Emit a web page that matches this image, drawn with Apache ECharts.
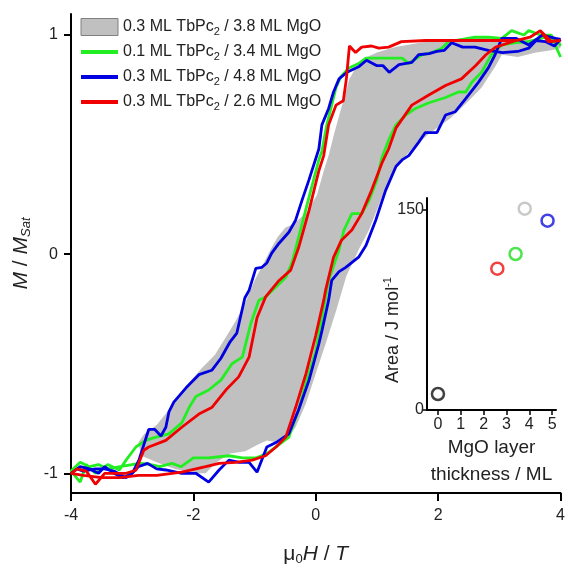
<!DOCTYPE html>
<html>
<head>
<meta charset="utf-8">
<script src="https://cdn.jsdelivr.net/npm/echarts@6/dist/echarts.min.js"></script>
<style>
html,body{margin:0;padding:0;background:#fff;}
#chart{width:568px;height:574px;}
</style>
</head>
<body>
<div id="chart"></div>
<script>
// ---------- data ----------
const seriesNames = [
  '0.3 ML TbPc₂ / 3.8 ML MgO',
  '0.1 ML TbPc₂ / 3.4 ML MgO',
  '0.3 ML TbPc₂ / 4.8 ML MgO',
  '0.3 ML TbPc₂ / 2.6 ML MgO'
];
const xTicks = [-4, -2, 0, 2, 4];
const yTicks = [-1, 0, 1];

// gray loop (0.3 ML / 3.8 ML MgO): [mu0H (T), M/Msat], closed outline
const grayLoop = [
  [4.0,0.96],[3.8,0.97],[3.5,0.98],[3.2,0.985],[2.9,0.99],[2.5,0.985],[2.1,0.98],[1.7,0.965],
  [1.3,0.945],[1.0,0.92],[0.8,0.895],[0.65,0.85],[0.55,0.80],[0.47,0.72],[0.38,0.63],[0.3,0.55],
  [0.22,0.46],[0.12,0.37],[0.02,0.27],[-0.15,0.19],[-0.35,0.14],[-0.5,0.12],[-0.62,0.08],
  [-0.72,0.03],[-0.85,-0.04],[-1.0,-0.12],[-1.15,-0.22],[-1.3,-0.3],[-1.45,-0.37],[-1.65,-0.46],
  [-1.86,-0.52],[-2.05,-0.58],[-2.2,-0.63],[-2.4,-0.71],[-2.6,-0.78],[-2.8,-0.82],[-2.9,-0.86],
  [-2.85,-0.92],[-2.6,-0.95],[-2.3,-0.98],[-2.0,-1.0],[-1.8,-1.0],[-1.62,-0.95],[-1.4,-0.91],
  [-1.15,-0.9],[-0.95,-0.87],[-0.8,-0.85],[-0.62,-0.86],[-0.5,-0.85],[-0.33,-0.79],[-0.16,-0.68],
  [0.0,-0.545],[0.16,-0.41],[0.33,-0.26],[0.5,-0.1],[0.7,0.02],[0.87,0.11],[1.08,0.26],
  [1.36,0.415],[1.57,0.48],[1.85,0.55],[2.2,0.62],[2.5,0.7],[2.71,0.76],[2.94,0.86],[3.04,0.91],
  [3.3,0.9],[3.6,0.92],[3.85,0.93],[4.0,0.94]
];

// green loop (0.1 ML / 3.4 ML MgO): down-sweep then up-sweep
const greenLoop = [
  [4.0,0.90],[3.92,0.95],[3.85,1.0],[3.67,1.0],[3.48,1.02],[3.4,1.0],[3.2,1.02],[3.04,0.985],
  [2.82,0.99],[2.6,0.99],[2.28,0.975],[2.17,0.97],[2.06,0.94],[1.9,0.92],[1.73,0.91],[1.52,0.87],
  [1.41,0.895],[1.19,0.895],[0.98,0.895],[0.82,0.895],[0.7,0.87],[0.54,0.85],[0.41,0.81],
  [0.33,0.76],[0.26,0.68],[0.18,0.59],[0.10,0.47],[0.05,0.43],[-0.11,0.26],[-0.28,0.078],
  [-0.39,-0.04],[-0.49,-0.105],[-0.65,-0.15],[-0.82,-0.195],[-0.93,-0.21],[-1.06,-0.315],
  [-1.2,-0.47],[-1.37,-0.5],[-1.55,-0.575],[-1.75,-0.62],[-1.96,-0.65],[-2.07,-0.70],
  [-2.19,-0.77],[-2.4,-0.82],[-2.61,-0.835],[-2.78,-0.85],[-2.94,-0.88],[-3.1,-0.94],
  [-3.21,-0.985],[-3.4,-0.96],[-3.6,-1.0],[-3.75,-0.96],[-3.85,-1.04],[-4.0,-0.99],
  [-3.85,-0.95],[-3.7,-0.97],[-3.55,-0.96],[-3.4,-0.98],[-3.2,-0.97],[-3.0,-0.96],[-2.85,-0.955],
  [-2.7,-0.96],[-2.55,-0.97],[-2.35,-0.955],[-2.2,-0.97],[-2.0,-0.93],[-1.75,-0.93],[-1.42,-0.92],
  [-1.2,-0.93],[-0.98,-0.93],[-0.8,-0.91],[-0.65,-0.88],[-0.44,-0.835],[-0.28,-0.71],
  [-0.16,-0.59],[0.0,-0.44],[0.1,-0.29],[0.21,-0.12],[0.38,0.02],[0.46,0.11],[0.59,0.185],
  [0.75,0.185],[0.87,0.245],[1.0,0.34],[1.08,0.44],[1.19,0.52],[1.31,0.59],[1.47,0.635],
  [1.63,0.665],[1.84,0.69],[2.12,0.715],[2.33,0.74],[2.45,0.74],[2.55,0.785],[2.71,0.83],
  [2.87,0.91],[3.04,0.955],[3.27,0.965],[3.48,0.97],[3.75,0.99],[3.95,0.98],[4.0,0.95]
];

// blue loop (0.3 ML / 4.8 ML MgO)
const blueLoop = [
  [4.0,0.98],[3.9,0.95],[3.75,0.97],[3.6,0.975],[3.48,0.94],[3.3,0.925],[3.05,0.92],[2.82,0.93],
  [2.6,0.945],[2.4,0.945],[2.22,0.965],[2.1,0.93],[1.98,0.925],[1.85,0.915],[1.68,0.91],
  [1.57,0.875],[1.36,0.865],[1.2,0.83],[1.1,0.86],[1.0,0.86],[0.83,0.885],[0.70,0.855],
  [0.51,0.83],[0.38,0.80],[0.29,0.74],[0.21,0.665],[0.1,0.59],[0.05,0.48],[-0.11,0.34],
  [-0.22,0.25],[-0.33,0.155],[-0.44,0.10],[-0.6,0.05],[-0.72,0.005],[-0.8,-0.04],[-0.88,-0.06],
  [-0.98,-0.065],[-1.09,-0.165],[-1.16,-0.2],[-1.29,-0.36],[-1.4,-0.40],[-1.55,-0.475],
  [-1.7,-0.53],[-1.91,-0.55],[-2.12,-0.61],[-2.32,-0.675],[-2.4,-0.72],[-2.45,-0.79],
  [-2.53,-0.83],[-2.63,-0.80],[-2.73,-0.80],[-2.89,-0.94],[-3.0,-1.0],[-3.1,-1.02],[-3.3,-0.99],
  [-3.45,-0.98],[-3.6,-0.98],[-3.8,-0.99],[-3.9,-0.98],[-4.0,-1.0],
  [-3.85,-0.97],[-3.7,-0.98],[-3.55,-1.0],[-3.45,-0.97],[-3.3,-1.0],[-3.15,-1.02],[-3.0,-1.0],
  [-2.9,-0.97],[-2.75,-0.955],[-2.6,-0.98],[-2.45,-0.985],[-2.19,-1.0],[-1.96,-1.0],
  [-1.75,-1.04],[-1.58,-0.985],[-1.42,-0.94],[-1.25,-0.95],[-1.09,-0.95],[-0.96,-0.995],
  [-0.80,-0.88],[-0.65,-0.86],[-0.44,-0.82],[-0.28,-0.71],[-0.11,-0.575],[0.05,-0.41],
  [0.10,-0.35],[0.21,-0.21],[0.26,-0.12],[0.38,-0.08],[0.49,-0.06],[0.70,-0.014],[0.82,0.04],
  [0.98,0.155],[1.14,0.29],[1.31,0.40],[1.41,0.43],[1.52,0.45],[1.68,0.51],[1.79,0.555],
  [1.98,0.555],[2.12,0.635],[2.28,0.65],[2.45,0.71],[2.66,0.785],[2.82,0.85],[2.93,0.91],
  [3.04,0.985],[3.27,0.985],[3.48,0.955],[3.7,1.0],[3.92,0.985],[4.0,0.98]
];

// red loop (0.3 ML / 2.6 ML MgO)
const redLoop = [
  [4.0,0.975],[3.85,0.97],[3.67,1.02],[3.5,0.99],[3.27,0.975],[3.0,0.975],[2.6,0.975],
  [2.2,0.975],[1.8,0.975],[1.4,0.97],[1.19,0.945],[1.03,0.94],[0.91,0.95],[0.75,0.945],
  [0.65,0.92],[0.55,0.95],[0.5,0.8],[0.45,0.70],[0.33,0.68],[0.21,0.59],[0.13,0.45],
  [0.05,0.38],[-0.11,0.2],[-0.28,0.03],[-0.41,-0.073],[-0.6,-0.12],[-0.82,-0.195],
  [-0.96,-0.29],[-1.09,-0.47],[-1.26,-0.56],[-1.47,-0.62],[-1.70,-0.70],[-1.91,-0.73],
  [-2.19,-0.79],[-2.45,-0.85],[-2.73,-0.88],[-2.81,-0.895],[-2.94,-0.986],[-3.1,-1.0],
  [-3.3,-1.0],[-3.45,-1.0],[-3.6,-1.05],[-3.75,-0.99],[-3.9,-0.98],[-4.0,-1.0],
  [-3.8,-1.01],[-3.5,-1.02],[-3.2,-1.02],[-2.9,-1.01],[-2.6,-1.01],[-2.19,-0.995],[-1.8,-0.97],
  [-1.58,-0.955],[-1.31,-0.95],[-1.04,-0.94],[-0.82,-0.92],[-0.65,-0.88],[-0.49,-0.835],
  [-0.33,-0.70],[-0.16,-0.545],[0.0,-0.37],[0.13,-0.21],[0.16,-0.165],[0.29,-0.014],
  [0.42,0.064],[0.59,0.11],[0.75,0.185],[0.91,0.29],[1.08,0.415],[1.19,0.48],[1.31,0.575],
  [1.57,0.68],[1.84,0.725],[2.12,0.77],[2.38,0.80],[2.61,0.86],[2.78,0.91],[2.94,0.945],
  [3.27,0.975],[3.5,0.99],[3.67,1.02],[3.8,0.97],[4.0,0.975]
];

// inset: MgO thickness (ML) vs hysteresis area (J/mol)
const insetThickness = [0, 2.6, 3.4, 3.8, 4.8];
const insetArea = [12, 106, 117, 151, 142];
const insetXTicks = [0, 1, 2, 3, 4, 5];
const insetYTicks = [0, 150];

// ---------- styles ----------
const insetColors = ['#111111', '#ee1111', '#22dd22', '#bbbbbb', '#1111dd'];
const lineColors = ['#22ee22', '#0000e0', '#f00000'];
const FONT = 'Liberation Sans, Arial, sans-serif';
const TXT = '#222';

const chart = echarts.init(document.getElementById('chart'), null, {renderer: 'canvas'});

function legendFmt(n) {
  const parts = n.split('₂');
  return '{t|' + parts[0] + '}{s|2}{t|' + parts[1] + '}';
}

const axisLineStyle = {color: '#000', width: 2};

const option = {
  animation: false,
  backgroundColor: '#fff',
  textStyle: {fontFamily: FONT},
  grid: [
    {left: 71, right: 6, top: 14, bottom: 81, containLabel: false},
    {left: 427, right: 12, top: 198, bottom: 164, containLabel: false}
  ],
  legend: {
    orient: 'vertical',
    left: 79,
    top: 17,
    padding: 0,
    itemWidth: 37,
    itemHeight: 17,
    itemGap: 5,
    selectedMode: false,
    formatter: legendFmt,
    textStyle: {
      color: TXT,
      fontFamily: FONT,
      rich: {
        t: {fontSize: 16, lineHeight: 20, color: TXT, fontFamily: FONT},
        s: {fontSize: 11, lineHeight: 11, padding: [9, 0, 0, 0], color: TXT, fontFamily: FONT}
      }
    },
    data: [
      {name: seriesNames[0], icon: 'rect', itemStyle: {color: '#c0c0c0', borderColor: '#808080', borderWidth: 1}},
      {name: seriesNames[1], itemStyle: {opacity: 0}, lineStyle: {width: 4, color: lineColors[0]}},
      {name: seriesNames[2], itemStyle: {opacity: 0}, lineStyle: {width: 4, color: lineColors[1]}},
      {name: seriesNames[3], itemStyle: {opacity: 0}, lineStyle: {width: 4, color: lineColors[2]}}
    ]
  },
  xAxis: [
    {
      gridIndex: 0, type: 'value', min: -4, max: 4, interval: 2,
      axisLine: {show: true, onZero: false, lineStyle: axisLineStyle},
      axisTick: {show: true, length: 8, lineStyle: axisLineStyle, customValues: xTicks},
      axisLabel: {fontSize: 16, color: TXT, margin: 15, fontFamily: FONT, customValues: xTicks},
      splitLine: {show: false},
      name: '{n|μ}{s|0}{i|H}{n| / }{i|T}',
      nameLocation: 'middle',
      nameGap: 49,
      nameTextStyle: {
        rich: {
          n: {fontSize: 21, color: TXT, fontFamily: FONT, lineHeight: 24},
          i: {fontSize: 21, color: TXT, fontFamily: FONT, fontStyle: 'italic', lineHeight: 24},
          s: {fontSize: 13, color: TXT, fontFamily: FONT, lineHeight: 13, padding: [11, 0, 0, 0]}
        }
      }
    },
    {
      gridIndex: 1, type: 'value', min: -0.48, max: 5.17,
      axisLine: {show: true, onZero: false, lineStyle: axisLineStyle},
      axisTick: {show: true, length: 5, lineStyle: {color: '#000', width: 1.5}, customValues: insetXTicks},
      axisLabel: {fontSize: 16, color: TXT, margin: 7, fontFamily: FONT, customValues: insetXTicks},
      splitLine: {show: false},
      name: 'MgO layer\nthickness / ML',
      nameLocation: 'middle',
      nameGap: 21,
      nameTextStyle: {fontSize: 19, color: TXT, fontFamily: FONT, lineHeight: 27}
    }
  ],
  yAxis: [
    {
      gridIndex: 0, type: 'value', min: -1.09, max: 1.096,
      axisLine: {show: true, onZero: false, lineStyle: axisLineStyle},
      axisTick: {show: true, length: 7, lineStyle: axisLineStyle, customValues: yTicks},
      axisLabel: {fontSize: 16, color: TXT, margin: 13, fontFamily: FONT, customValues: yTicks},
      splitLine: {show: false},
      name: '{i|M}{n| / }{i|M}{s|Sat}',
      nameLocation: 'middle',
      nameGap: 38,
      nameTextStyle: {
        rich: {
          n: {fontSize: 21, color: TXT, fontFamily: FONT, lineHeight: 24},
          i: {fontSize: 21, color: TXT, fontFamily: FONT, fontStyle: 'italic', lineHeight: 24},
          s: {fontSize: 13, color: TXT, fontFamily: FONT, fontStyle: 'italic', lineHeight: 13, padding: [11, 0, 0, 0]}
        }
      }
    },
    {
      gridIndex: 1, type: 'value', min: 0, max: 159,
      axisLine: {show: true, onZero: false, lineStyle: axisLineStyle},
      axisTick: {show: true, length: 5, lineStyle: {color: '#000', width: 1.5}, customValues: insetYTicks},
      axisLabel: {fontSize: 16, color: TXT, margin: 3, fontFamily: FONT, customValues: insetYTicks},
      splitLine: {show: false},
      name: '{a|Area / J mol}{p|-1}',
      nameLocation: 'middle',
      nameGap: 23,
      nameMoveOverlap: false,
      nameTextStyle: {
        padding: [0, 52, 0, 0],
        rich: {
          a: {fontSize: 18, color: TXT, fontFamily: FONT, lineHeight: 22},
          p: {fontSize: 11, color: TXT, fontFamily: FONT, lineHeight: 11, padding: [0, 0, 11, 0]}
        }
      }
    }
  ],
  series: [
    {
      name: seriesNames[0],
      type: 'custom',
      xAxisIndex: 0, yAxisIndex: 0,
      itemStyle: {color: '#c0c0c0'},
      data: grayLoop,
      encode: {x: 0, y: 1},
      z: 1,
      renderItem: function (params, api) {
        if (params.dataIndex !== 0) return null;
        const pts = grayLoop.map(function (p) { return api.coord(p); });
        return {type: 'polygon', shape: {points: pts}, style: {fill: '#c0c0c0', stroke: null}};
      }
    },
    {
      name: seriesNames[1], type: 'line', xAxisIndex: 0, yAxisIndex: 0,
      data: greenLoop, symbol: 'none', z: 3,
      itemStyle: {color: lineColors[0]},
      lineStyle: {color: lineColors[0], width: 2.8}
    },
    {
      name: seriesNames[2], type: 'line', xAxisIndex: 0, yAxisIndex: 0,
      data: blueLoop, symbol: 'none', z: 4,
      itemStyle: {color: lineColors[1]},
      lineStyle: {color: lineColors[1], width: 2.8}
    },
    {
      name: seriesNames[3], type: 'line', xAxisIndex: 0, yAxisIndex: 0,
      data: redLoop, symbol: 'none', z: 5,
      itemStyle: {color: lineColors[2]},
      lineStyle: {color: lineColors[2], width: 2.8}
    },
    {
      type: 'scatter', xAxisIndex: 1, yAxisIndex: 1,
      symbol: 'circle', symbolSize: 12,
      data: insetThickness.map(function (t, i) {
        return {value: [t, insetArea[i]], itemStyle: {color: '#fff', borderColor: insetColors[i], borderWidth: 2.5}};
      }),
      z: 6
    }
  ]
};
chart.setOption(option);
</script>
</body>
</html>
